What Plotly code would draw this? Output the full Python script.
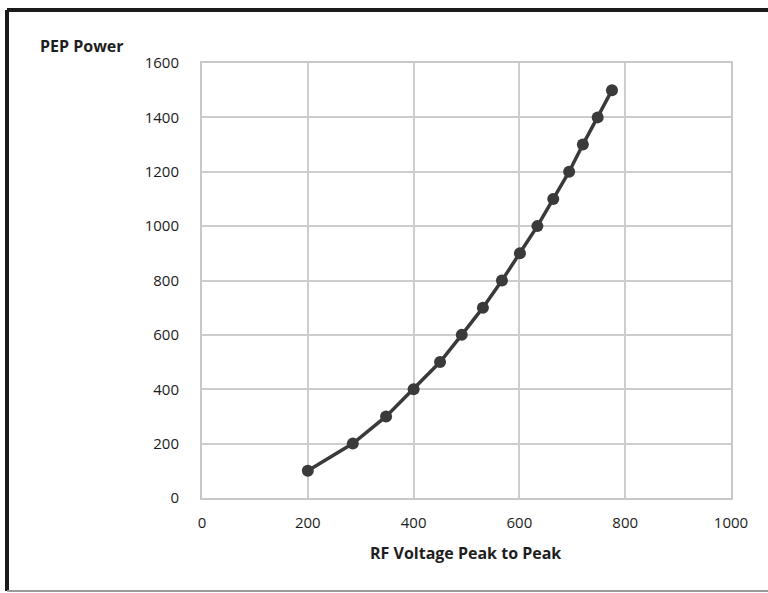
import plotly.graph_objects as go

# RF voltage (peak to peak) vs PEP power
rf_voltage = [200, 285, 348, 400, 450, 491, 531, 567, 601, 634, 664, 694, 720, 748, 775]
pep_power = [100, 200, 300, 400, 500, 600, 700, 800, 900, 1000, 1100, 1200, 1300, 1400, 1500]

x_ticks = [0, 200, 400, 600, 800, 1000]
y_ticks = [0, 200, 400, 600, 800, 1000, 1200, 1400, 1600]

W, H = 768, 593
L, R, T, B = 202, 37, 63, 95
pw, ph = W - L - R, H - T - B


def px_x(p):
    return (p - L) / pw


def px_y(p):
    return (H - B - p) / ph


fig = go.Figure()
fig.add_trace(go.Scatter(
    x=rf_voltage, y=pep_power, mode="lines+markers",
    line=dict(color="#3a3a3a", width=3.5),
    marker=dict(color="#3a3a3a", size=12),
    showlegend=False
))

axis_font = dict(family="Open Sans", size=15, color="#1c1c1c")
fig.update_xaxes(
    range=[0, 1000], tickvals=x_ticks, showgrid=True, gridcolor="#cdcdcd", gridwidth=2,
    showline=True, linecolor="#c8c8c8", linewidth=2, mirror=True, zeroline=False,
    ticks="", tickfont=axis_font, ticklabelstandoff=10
)
fig.update_yaxes(
    range=[0, 1600], tickvals=y_ticks, showgrid=True, gridcolor="#cdcdcd", gridwidth=2,
    showline=True, linecolor="#c8c8c8", linewidth=2, mirror=True, zeroline=False,
    ticks="", tickfont=axis_font, ticklabelstandoff=18
)

title_font = dict(family="Open Sans", size=16, color="#1e1e1e")
fig.update_layout(
    width=W, height=H,
    margin=dict(l=L, r=R, t=T, b=B),
    plot_bgcolor="white", paper_bgcolor="white",
    annotations=[
        dict(text="<b>PEP Power</b>", xref="paper", yref="paper",
             x=px_x(38), y=px_y(46), xanchor="left", yanchor="middle",
             showarrow=False, font=title_font),
        dict(text="<b>RF Voltage Peak to Peak</b>", xref="paper", yref="paper",
             x=px_x(465), y=px_y(553), xanchor="center", yanchor="middle",
             showarrow=False, font=title_font),
    ],
    shapes=[
        # outer frame
        dict(type="line", xref="paper", yref="paper", x0=px_x(7), x1=px_x(W + 5),
             y0=px_y(10), y1=px_y(10), line=dict(color="#1a1a1a", width=4)),
        dict(type="line", xref="paper", yref="paper", x0=px_x(7), x1=px_x(7),
             y0=px_y(10), y1=px_y(591), line=dict(color="#1a1a1a", width=4)),
        dict(type="line", xref="paper", yref="paper", x0=px_x(7), x1=px_x(W + 5),
             y0=px_y(591), y1=px_y(591), line=dict(color="#9a9a9a", width=2)),
    ]
)

fig.write_html("out.html", config={"displayModeBar": False},
               post_script="document.body.style.margin='0';")
